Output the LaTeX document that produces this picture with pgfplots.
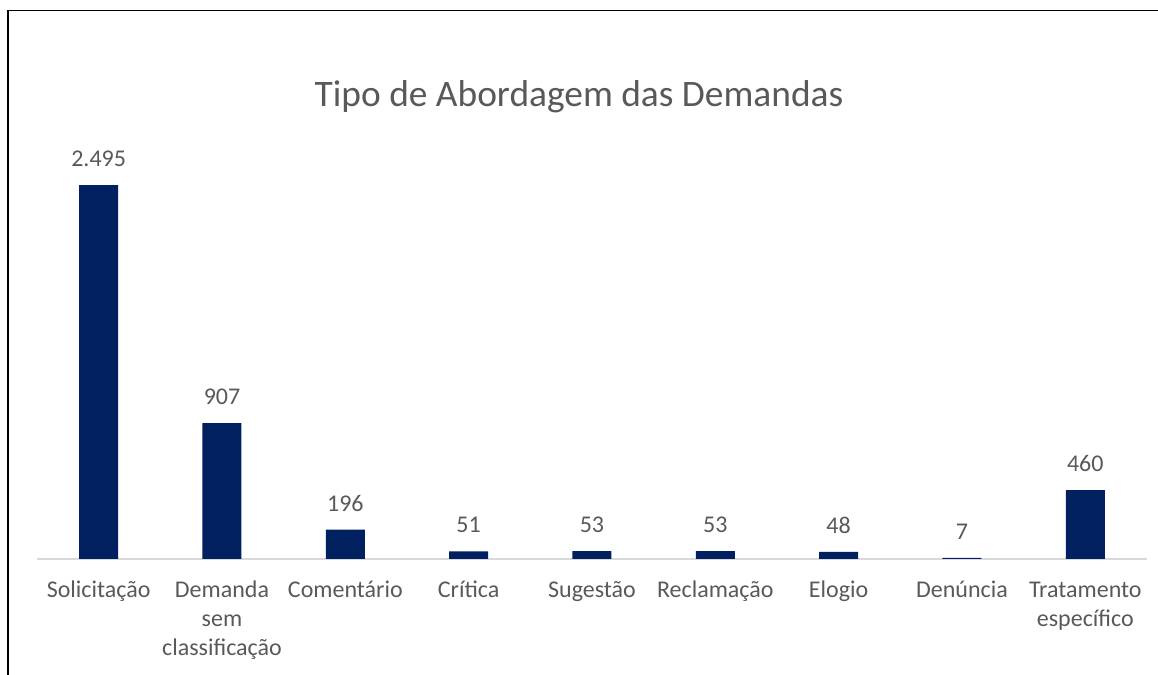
\documentclass[border=0pt]{standalone}
\usepackage{pgfplots}
\pgfplotsset{compat=1.18}
\usepackage{fontspec}
\setmainfont{Carlito}
\definecolor{barc}{RGB}{0,32,96}
\definecolor{txt}{RGB}{89,89,89}
\definecolor{axc}{RGB}{217,217,217}
\begin{document}
\begin{tikzpicture}
\useasboundingbox (0,0) rectangle (579pt,337.5pt);
\draw[line width=0.8pt, black] (4.1pt,-2pt) -- (4.1pt,332.2pt) -- (590pt,332.2pt);
\node[text=txt, font=\fontsize{18.7}{22}\selectfont] at (289.5pt,289pt) {Tipo de Abordagem das Demandas};
\begin{axis}[
  at={(18.5pt,58pt)}, anchor=south west,
  scale only axis, width=555pt, height=209.85pt,
  xmin=-0.5, xmax=8.5, ymin=0, ymax=2800,
  axis y line=none, axis x line=bottom,
  x axis line style={-, draw=axc, line width=0.6pt},
  xtick=data, major tick length=0pt,
  xticklabels={\strut Solicitação, {\strut Demanda\\sem\\classificação}, \strut Comentário, \strut Crítica, \strut Sugestão, \strut Reclamação, \strut Elogio, \strut Denúncia, {\strut Tratamento\\específico}},
  xticklabel style={align=center, anchor=north, inner sep=0pt, yshift=-8.85pt, text=txt, font=\fontsize{12}{14.5}\selectfont},
  ytick=\empty,
  /pgf/number format/assume math mode=true,
  /pgf/number format/.cd, 1000 sep={.},
  /pgfplots/.cd,
  nodes near coords,
  every node near coord/.append style={anchor=south, inner sep=0pt, yshift=9pt, text=txt, font=\fontsize{12}{14.5}\selectfont},
  clip=false,
]
\addplot[ybar, bar width=19.5pt, fill=barc, draw=none] coordinates {
 (0,2495) (1,907) (2,196) (3,51) (4,53) (5,53) (6,48) (7,7) (8,460)
};
\end{axis}
\end{tikzpicture}
\end{document}
